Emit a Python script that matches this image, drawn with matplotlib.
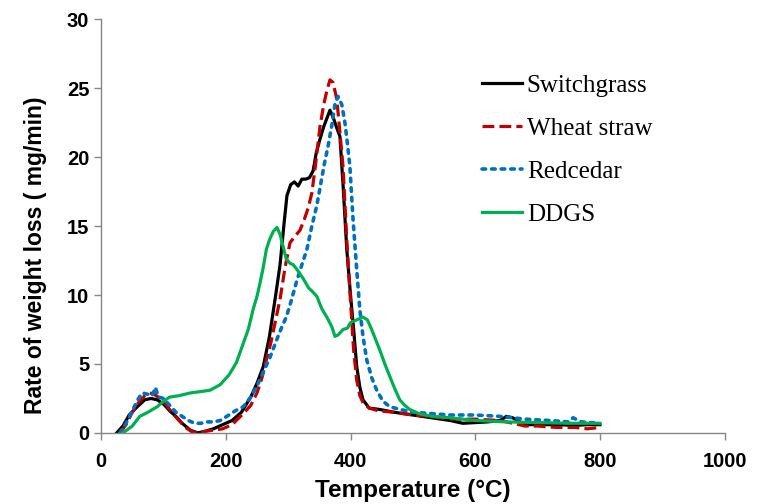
import matplotlib
matplotlib.use("Agg")
import matplotlib.pyplot as plt

# Switchgrass
sg_t = [25, 35, 45, 58, 70, 80, 90, 100, 110, 120, 130, 143, 155, 165, 180, 195, 210, 225, 240, 250,
        260, 270, 280, 287, 293, 298, 304, 310, 316, 322, 328, 334, 340, 345, 351, 357, 362, 367, 372, 378,
        383, 388, 394, 400, 405, 410, 415, 420, 430, 447, 470, 500, 530, 560, 580, 600, 620, 640, 650, 660,
        680, 700, 730, 760, 780, 800]
sg_v = [0, 0.5, 1.3, 1.9, 2.4, 2.5, 2.4, 2.1, 1.6, 1.2, 0.7, 0.2, 0.0, 0.1, 0.3, 0.6, 0.9, 1.5, 2.6, 3.6,
        4.8, 7.0, 10.0, 12.2, 15.0, 17.2, 18.0, 18.2, 17.9, 18.4, 18.4, 18.5, 19.0, 20.3, 21.3, 22.2, 22.8, 23.4, 22.9, 22.1,
        21.5, 18.0, 13.3, 10.0, 7.5, 4.8, 3.3, 2.4, 1.8, 1.7, 1.5, 1.3, 1.1, 0.9, 0.7, 0.75, 0.8, 0.9, 1.2, 1.1,
        0.6, 0.6, 0.6, 0.55, 0.6, 0.6]

# Wheat straw
ws_t = [30, 40, 50, 60, 70, 78, 85, 95, 105, 115, 125, 135, 145, 155, 165, 180, 195, 210, 228, 240,
        250, 258, 265, 272, 280, 287, 295, 303, 310, 319, 326, 332, 338, 344, 351, 357, 362, 367, 372, 378,
        383, 388, 394, 400, 405, 410, 415, 420, 430, 445, 470, 500, 530, 560, 600, 640, 680, 700, 730, 760,
        780, 800]
ws_v = [0, 0.6, 1.5, 2.2, 2.7, 2.9, 2.8, 2.5, 2.0, 1.4, 0.9, 0.4, 0.1, 0.0, 0.1, 0.2, 0.3, 0.6, 1.4, 2.0,
        2.9, 4.0, 5.3, 6.5, 8.2, 9.7, 12.0, 13.8, 14.2, 14.7, 15.5, 16.3, 17.4, 19.5, 22.2, 23.8, 24.8, 25.6, 25.4, 24.2,
        21.8, 19.3, 14.0, 9.5, 6.0, 3.8, 2.7, 2.2, 1.8, 1.6, 1.5, 1.3, 1.2, 1.0, 1.0, 0.9, 0.5, 0.5, 0.4, 0.4,
        0.3, 0.4]

# Redcedar
rc_t = [30, 40, 50, 60, 66, 75, 82, 87, 92, 100, 110, 120, 130, 140, 150, 160, 170, 180, 191, 205,
        215, 228, 240, 250, 260, 271, 282, 290, 297, 305, 313, 322, 330, 338, 346, 352, 358, 364, 370, 375,
        380, 386, 391, 395, 399, 404, 410, 415, 420, 426, 434, 442, 452, 463, 480, 500, 530, 560, 600, 640,
        680, 720, 750, 757, 770, 800]
rc_v = [0, 0.7, 1.6, 2.5, 2.9, 2.8, 2.7, 3.3, 2.6, 2.5, 2.0, 1.5, 1.2, 0.9, 0.7, 0.7, 0.8, 0.8, 0.9, 1.3,
        1.6, 1.9, 2.6, 3.4, 4.4, 5.5, 6.8, 7.7, 8.4, 9.6, 10.9, 12.2, 13.3, 15.0, 16.5, 18.0, 19.5, 20.8, 22.3, 23.8,
        24.4, 23.8, 22.5, 21.0, 19.3, 15.5, 11.8, 8.9, 7.0, 5.3, 4.0, 3.1, 2.3, 1.9, 1.7, 1.5, 1.4, 1.3, 1.3, 1.2,
        1.0, 0.9, 0.8, 1.1, 0.8, 0.7]

# DDGS
dd_t = [35, 50, 62, 75, 90, 100, 110, 125, 143, 160, 175, 191, 205, 217, 228, 236, 244, 250, 255, 260,
        265, 270, 276, 282, 287, 292, 297, 303, 308, 315, 324, 333, 340, 346, 354, 362, 370, 375, 380, 388,
        395, 400, 410, 420, 427, 433, 440, 447, 455, 463, 471, 479, 487, 495, 510, 530, 560, 600, 650, 700,
        750, 800]
dd_v = [0, 0.5, 1.2, 1.5, 1.9, 2.3, 2.6, 2.7, 2.9, 3.0, 3.1, 3.5, 4.2, 5.1, 6.5, 7.5, 9.0, 9.9, 10.9, 12.0,
        13.3, 14.0, 14.6, 14.9, 14.4, 13.5, 12.6, 12.3, 12.2, 11.8, 11.2, 10.5, 10.2, 9.9, 9.0, 8.4, 7.7, 7.0, 7.1, 7.5,
        7.6, 8.0, 8.2, 8.4, 8.2, 7.6, 6.8, 6.0, 5.0, 4.1, 3.2, 2.4, 2.0, 1.7, 1.4, 1.2, 1.1, 0.9, 0.8, 0.75,
        0.7, 0.7]

x_ticks = [0, 200, 400, 600, 800, 1000]
y_ticks = [0, 5, 10, 15, 20, 25, 30]

fig = plt.figure(figsize=(7.66, 5.04), dpi=100)
ax = fig.add_axes([0.132, 0.141, 0.814, 0.821])

lw = 2.3
ax.plot(sg_t, sg_v, color="black", lw=lw, label="Switchgrass")
ax.plot(ws_t, ws_v, color="#C00000", lw=lw, ls="--", label="Wheat straw")
ax.plot(rc_t, rc_v, color="#0070C0", lw=lw + 0.3, ls=":", dash_capstyle="round", label="Redcedar")
ax.plot(dd_t, dd_v, color="#00B050", lw=lw, label="DDGS")

ax.set_xlim(0, 1000)
ax.set_ylim(0, 30)
ax.set_xticks(x_ticks)
ax.set_yticks(y_ticks)

for s in ["top", "right"]:
    ax.spines[s].set_visible(False)
for s in ["left", "bottom"]:
    ax.spines[s].set_color("#868686")
    ax.spines[s].set_linewidth(1.0)
ax.tick_params(colors="#868686", length=5, width=1.0, labelcolor="black")
ax.tick_params(axis="x", pad=9)
for lab in ax.get_xticklabels() + ax.get_yticklabels():
    lab.set_fontfamily("Liberation Sans")
    lab.set_fontweight("bold")
    lab.set_fontsize(14.5)

ax.set_xlabel("Temperature (°C)", family="Liberation Sans", fontweight="bold", fontsize=17.5)
ax.set_ylabel("Rate of weight loss ( mg/min)", family="Liberation Sans", fontweight="bold", fontsize=16.5)
ax.xaxis.set_label_coords(0.5, -0.138)
ax.xaxis.label.set_va("center")
ax.yaxis.set_label_coords(-0.106, 0.43)
ax.yaxis.label.set_va("center")

ax.legend(loc="upper left", bbox_to_anchor=(0.629, 0.852), bbox_transform=fig.transFigure,
          frameon=False, prop={"family": "Liberation Serif", "size": 18},
          handlelength=1.6, handletextpad=0.2, labelspacing=0.82, borderpad=0, borderaxespad=0)

fig.savefig("out.png", dpi=100)
plt.close(fig)
